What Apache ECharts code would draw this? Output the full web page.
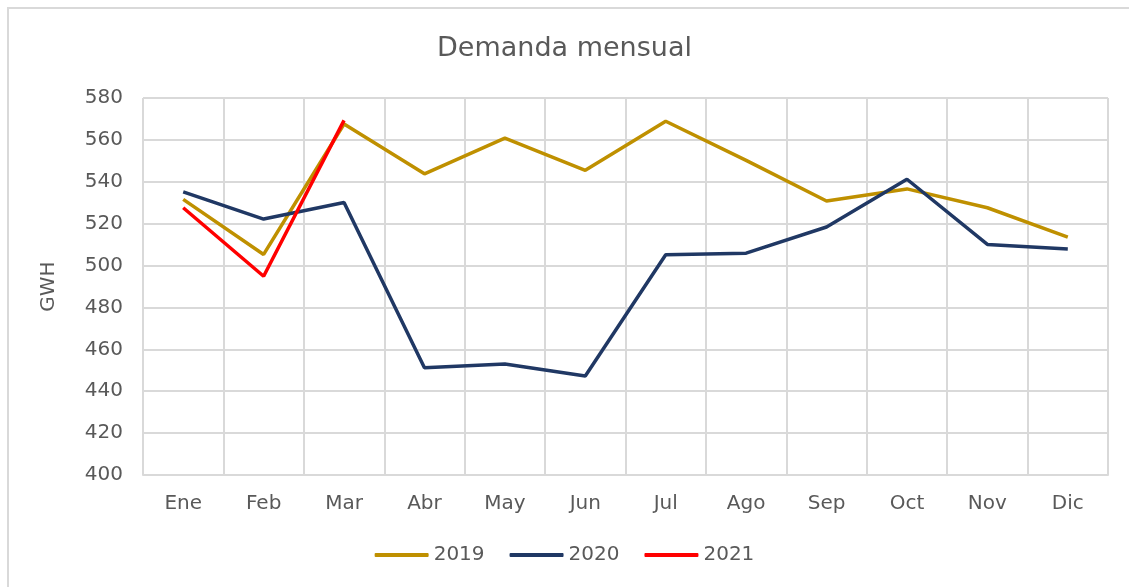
<!DOCTYPE html>
<html>
<head>
<meta charset="utf-8">
<script src="https://cdn.jsdelivr.net/npm/echarts@6/dist/echarts.min.js"></script>
<style>
  html, body { margin: 0; padding: 0; background: #fff; overflow: hidden; }
  #chart { width: 1129px; height: 587px; }
</style>
</head>
<body>
<div id="chart"></div>
<script>
const months = ["Ene", "Feb", "Mar", "Abr", "May", "Jun", "Jul", "Ago", "Sep", "Oct", "Nov", "Dic"];
const d2019 = [531.6, 505.3, 567.6, 543.8, 560.8, 545.5, 568.9, 550.2, 530.8, 536.6, 527.6, 513.6];
const d2020 = [535.2, 522.2, 530.1, 451.2, 453.0, 447.3, 505.2, 505.9, 518.4, 541.2, 510.1, 507.9];
const d2021 = [527.6, 494.9, 569.3];

const txt = "#595959";
const fnt = "'DejaVu Sans', sans-serif";

var myChart = echarts.init(document.getElementById("chart"));
var option = {
  animation: false,
  textStyle: { fontFamily: fnt },
  // outer chart-area frame, only the top and left edges are inside the picture
  graphic: [
    { type: "polyline", silent: true, shape: { points: [[8, 587], [8, 8], [1129, 8]] },
      style: { stroke: "#d9d9d9", lineWidth: 2, fill: null } },
  ],
  title: {
    text: "Demanda mensual",
    left: "center",
    top: 30,
    textStyle: { color: txt, fontSize: 27, fontWeight: "normal", fontFamily: fnt },
  },
  legend: {
    bottom: 17,
    left: "center",
    itemWidth: 54,
    itemHeight: 4,
    itemGap: 25,
    icon: "roundRect",
    textStyle: { color: txt, fontSize: 20, fontFamily: fnt },
    data: ["2019", "2020", "2021"],
  },
  grid: { left: 143, right: 21, top: 98, bottom: 112 },
  xAxis: {
    type: "category",
    data: months,
    boundaryGap: true,
    axisLine: { lineStyle: { color: "#d9d9d9", width: 2 } },
    axisTick: { show: false },
    axisLabel: { color: txt, fontSize: 20, margin: 19, fontFamily: fnt },
    splitLine: { show: true, interval: 0, lineStyle: { color: "#d9d9d9", width: 2 } },
  },
  yAxis: {
    type: "value",
    min: 400,
    max: 580,
    interval: 20,
    name: "GWH",
    nameLocation: "middle",
    nameGap: 84,
    nameTextStyle: { color: txt, fontSize: 20, fontFamily: fnt },
    axisLine: { show: false },
    axisTick: { show: false },
    axisLabel: { color: txt, fontSize: 20, margin: 20, fontFamily: fnt },
    splitLine: { lineStyle: { color: "#d9d9d9", width: 2 } },
  },
  series: [
    { name: "2019", type: "line", data: d2019, symbol: "none", lineStyle: { width: 3.5, color: "#bf9000" }, itemStyle: { color: "#bf9000" } },
    { name: "2020", type: "line", data: d2020, symbol: "none", lineStyle: { width: 3.5, color: "#203864" }, itemStyle: { color: "#203864" } },
    { name: "2021", type: "line", data: d2021, symbol: "none", lineStyle: { width: 3.5, color: "#ff0000" }, itemStyle: { color: "#ff0000" } },
  ],
};
myChart.setOption(option);
</script>
</body>
</html>
